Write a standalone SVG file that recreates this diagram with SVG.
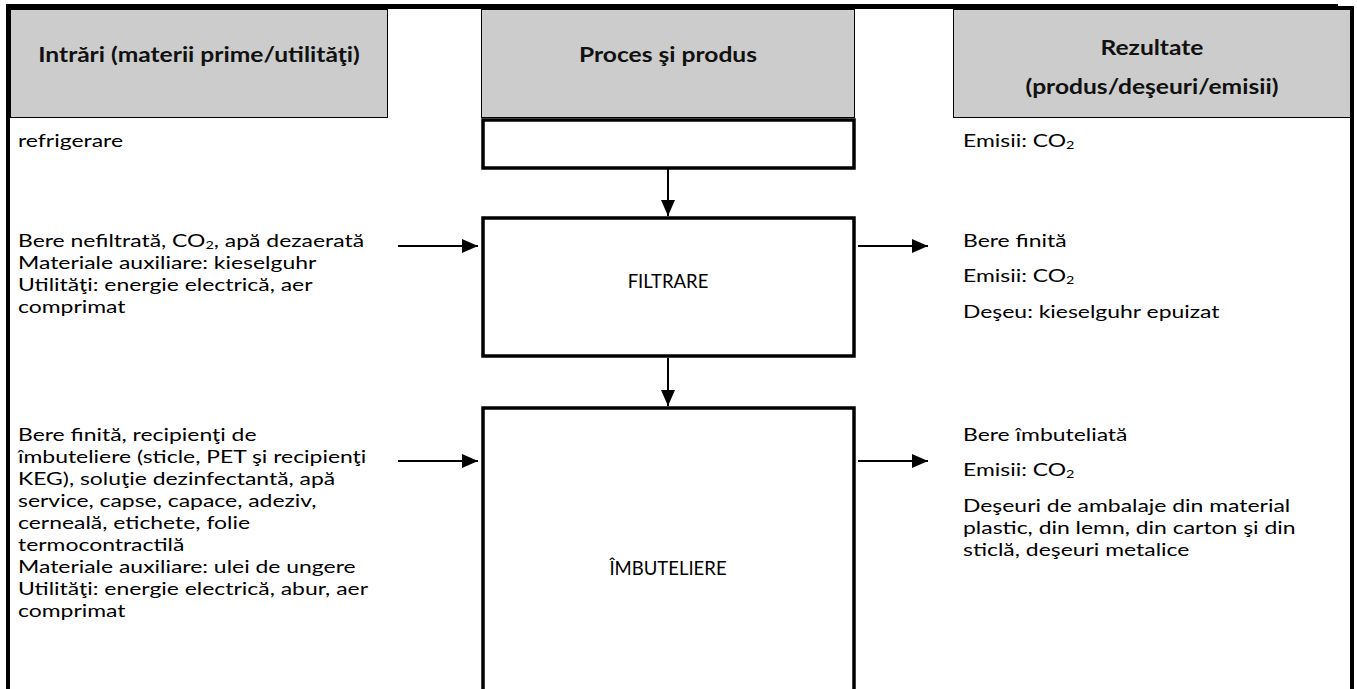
<svg xmlns="http://www.w3.org/2000/svg" width="1357" height="689" viewBox="0 0 1357 689">
<defs>
<style>
.hdr{fill:#CCCCCC;stroke:#000;stroke-width:1}
.ht{font-family:Lato,"Open Sans","Liberation Sans",sans-serif;font-weight:bold;font-size:20.5px;fill:#111;text-anchor:middle}
.t{font-family:Lato,"Open Sans","Liberation Sans",sans-serif;font-size:17.5px;fill:#000}
.sub{font-size:11px}
.pt{font-family:Lato,"Open Sans","Liberation Sans",sans-serif;font-size:18.5px;fill:#000;text-anchor:middle}
.box{fill:#fff;stroke:#000;stroke-width:3.5}
.frame{stroke:#000;fill:none}
.con{stroke:#000;stroke-width:2;fill:none}
</style>
<marker id="ah" viewBox="0 0 16 14" refX="16" refY="7" markerWidth="16" markerHeight="14" markerUnits="userSpaceOnUse" orient="auto">
<path d="M0,0 L16,7 L0,14 z" fill="#000"/>
</marker>
</defs>
<rect width="1357" height="689" fill="#fff"/>

<g id="frame">
<line class="frame" x1="6" y1="6.5" x2="1338" y2="6.5" stroke-width="5"/>
<line class="frame" x1="1337" y1="8" x2="1354" y2="8" stroke-width="4"/>
<line class="frame" x1="8" y1="4" x2="8" y2="689" stroke-width="4"/>
<line class="frame" x1="1352" y1="6" x2="1352" y2="689" stroke-width="4"/>
</g>

<g id="hdr-inputs">
<rect class="hdr" x="10.5" y="9.5" width="377" height="108"/>
<text class="ht" transform="translate(199,62) scale(1.2,1)">Intrări (materii prime/utilităţi)</text>
</g>
<g id="hdr-process">
<rect class="hdr" x="481.5" y="9.5" width="373" height="108"/>
<text class="ht" transform="translate(668,62) scale(1.2,1)">Proces şi produs</text>
</g>
<g id="hdr-results">
<rect class="hdr" x="953.5" y="9.5" width="397" height="108"/>
<text class="ht" transform="translate(1152,55) scale(1.2,1)">Rezultate</text>
<text class="ht" transform="translate(1152,94) scale(1.2,1)">(produs/deşeuri/emisii)</text>
</g>

<g id="connectors">
<line class="con" x1="668" y1="169" x2="668" y2="216" marker-end="url(#ah)"/>
<line class="con" x1="668" y1="358" x2="668" y2="406" marker-end="url(#ah)"/>
<line class="con" x1="398" y1="246" x2="478" y2="246" marker-end="url(#ah)"/>
<line class="con" x1="858" y1="246" x2="928" y2="246" marker-end="url(#ah)"/>
<line class="con" x1="398" y1="461" x2="478" y2="461" marker-end="url(#ah)"/>
<line class="con" x1="858" y1="461" x2="928" y2="461" marker-end="url(#ah)"/>
</g>

<g id="step-prev">
<rect class="box" x="483" y="120" width="371" height="48"/>
</g>
<g id="in-prev" transform="translate(18,0) scale(1.31,1)">
<text class="t" x="0" y="147">refrigerare</text>
</g>
<g id="out-prev" transform="translate(963,0) scale(1.31,1)">
<text class="t" x="0" y="147">Emisii: CO<tspan class="sub" dy="2.5">2</tspan></text>
</g>

<g id="step-filtrare">
<rect class="box" x="483" y="218" width="371" height="138"/>
<text class="pt" x="668" y="288">FILTRARE</text>
</g>
<g id="in-filtrare" transform="translate(18,0) scale(1.31,1)">
<text class="t" x="0" y="247">Bere nefiltrată, CO<tspan class="sub" dy="2.5">2</tspan><tspan dy="-2.5">, apă dezaerată</tspan></text>
<text class="t" x="0" y="269">Materiale auxiliare: kieselguhr</text>
<text class="t" x="0" y="291">Utilităţi: energie electrică, aer</text>
<text class="t" x="0" y="313">comprimat</text>
</g>
<g id="out-filtrare" transform="translate(963,0) scale(1.31,1)">
<text class="t" x="0" y="247">Bere finită</text>
<text class="t" x="0" y="282">Emisii: CO<tspan class="sub" dy="2.5">2</tspan></text>
<text class="t" x="0" y="318">Deşeu: kieselguhr epuizat</text>
</g>

<g id="step-imbuteliere">
<rect class="box" x="483" y="408" width="371" height="320"/>
<text class="pt" x="668" y="575">ÎMBUTELIERE</text>
</g>
<g id="in-imbuteliere" transform="translate(18,0) scale(1.31,1)">
<text class="t" x="0" y="441">Bere finită, recipienţi de</text>
<text class="t" x="0" y="463">îmbuteliere (sticle, PET şi recipienţi</text>
<text class="t" x="0" y="485">KEG), soluţie dezinfectantă, apă</text>
<text class="t" x="0" y="507">service, capse, capace, adeziv,</text>
<text class="t" x="0" y="529">cerneală, etichete, folie</text>
<text class="t" x="0" y="551">termocontractilă</text>
<text class="t" x="0" y="573">Materiale auxiliare: ulei de ungere</text>
<text class="t" x="0" y="595">Utilităţi: energie electrică, abur, aer</text>
<text class="t" x="0" y="617">comprimat</text>
</g>
<g id="out-imbuteliere" transform="translate(963,0) scale(1.31,1)">
<text class="t" x="0" y="441">Bere îmbuteliată</text>
<text class="t" x="0" y="476">Emisii: CO<tspan class="sub" dy="2.5">2</tspan></text>
<text class="t" x="0" y="512">Deşeuri de ambalaje din material</text>
<text class="t" x="0" y="534">plastic, din lemn, din carton şi din</text>
<text class="t" x="0" y="556">sticlă, deşeuri metalice</text>
</g>
</svg>
